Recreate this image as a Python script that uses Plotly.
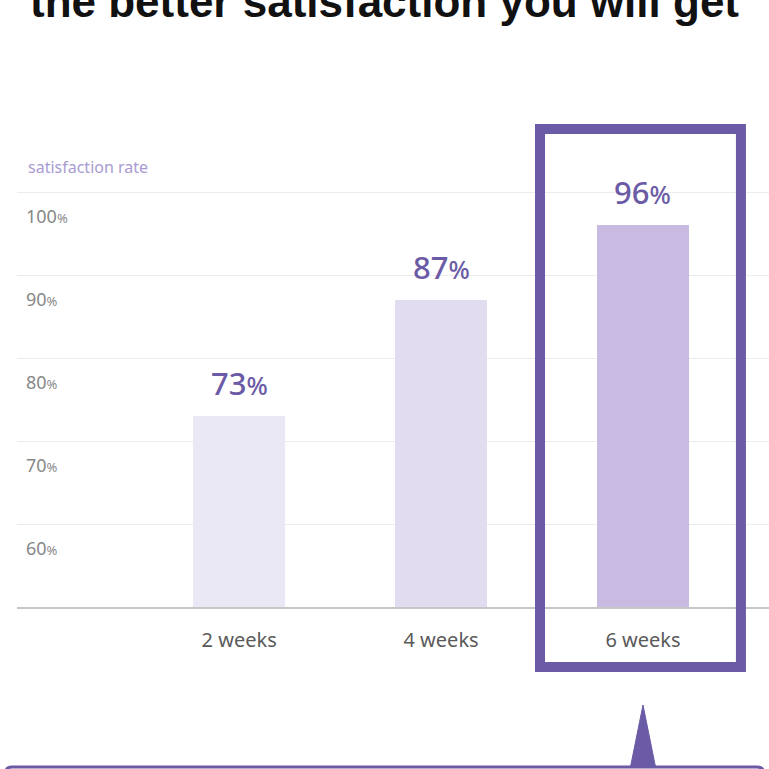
import plotly.graph_objects as go

# ---- data ----
categories = ["2 weeks", "4 weeks", "6 weeks"]
satisfaction = [73, 87, 96]
bar_colors = ["#ebe8f5", "#e2dcf0", "#c9bae2"]
tick_values = [60, 70, 80, 90, 100]
tick_labels = [f"{v}<span style='font-size:13px'>%</span>" for v in tick_values]
title_text = "the better satisfaction you will get"
axis_title = "satisfaction rate"

W = H = 769
L, R, T, B = 17, 0, 150, 162
PW = W - L - R
PH = H - T - B


def px_x(px):
    return (px - L) / PW


def px_y(py):
    return (H - B - py) / PH


PURPLE = "#6b5ba6"

fig = go.Figure()
fig.add_trace(go.Bar(
    x=list(range(len(categories))),
    y=satisfaction,
    marker=dict(color=bar_colors, line=dict(width=0)),
    width=0.455,
    hoverinfo="skip",
))

# value labels above bars
for i, v in enumerate(satisfaction):
    fig.add_annotation(
        x=i, y=v, xref="x", yref="y",
        text=f"{v}<span style='font-size:25px'>%</span>",
        showarrow=False, yanchor="bottom", yshift=10,
        font=dict(family="Noto Sans", size=31, color=PURPLE, weight=500),
    )

fig.update_layout(
    width=W, height=H,
    margin=dict(l=L, r=R, t=T, b=B, pad=0),
    paper_bgcolor="white", plot_bgcolor="white",
    showlegend=False,
    bargap=0,
    xaxis=dict(
        range=[-1.1, 2.624],
        tickmode="array",
        tickvals=list(range(len(categories))),
        ticktext=categories,
        tickfont=dict(family="Noto Sans", size=20, color="#5a5a5a"),
        ticks="",
        ticklabelstandoff=14,
        showgrid=False,
        showline=True, linecolor="#c6c6c6", linewidth=2,
        zeroline=False,
        fixedrange=True,
    ),
    yaxis=dict(
        range=[50, 105.06],
        tickmode="array",
        tickvals=tick_values,
        ticktext=tick_labels,
        tickfont=dict(family="Noto Sans", size=18, color="#888888"),
        ticklabelposition="inside",
        ticklabelshift=25,
        ticklabelstandoff=6,
        ticks="",
        showgrid=True, gridcolor="#ececec", gridwidth=1,
        showline=False, zeroline=False,
        fixedrange=True,
    ),
)

# axis caption
fig.add_annotation(
    x=px_x(26), y=px_y(167), xref="paper", yref="paper",
    text=axis_title, showarrow=False, xanchor="left", yanchor="middle",
    font=dict(family="Noto Sans", size=16, color="#a99bd2"),
)

# title (cut off at top)
fig.add_annotation(
    x=px_x(384), y=px_y(28), xref="paper", yref="paper",
    text=title_text, showarrow=False, xanchor="center", yanchor="bottom",
    font=dict(family="Liberation Sans", size=44, color="#111111", weight="bold"),
)

# highlight box around 6 weeks
fig.add_shape(
    type="rect", xref="x", yref="paper",
    x0=1.49, x1=2.485, y0=px_y(667), y1=px_y(129),
    line=dict(color=PURPLE, width=10), fillcolor="rgba(0,0,0,0)",
    layer="above",
)

# speech bubble pointer
fig.add_shape(
    type="path", xref="x", yref="paper",
    path=f"M 1.935,{px_y(770)} L 2.0,{px_y(705)} L 2.065,{px_y(770)} Z",
    line=dict(color=PURPLE, width=1), fillcolor=PURPLE, layer="above",
)
# speech bubble top edge
x0, x1 = px_x(6), px_x(763)
yt, yb = px_y(767), px_y(800)
r = 0.008
fig.add_shape(
    type="path", xref="paper", yref="paper",
    path=(f"M {x0},{yb} L {x0},{yt - 0.01} Q {x0},{yt} {x0 + r},{yt} "
          f"L {x1 - r},{yt} Q {x1},{yt} {x1},{yt - 0.01} L {x1},{yb}"),
    line=dict(color=PURPLE, width=3), fillcolor="white", layer="above",
)

fig.write_html("out.html")
